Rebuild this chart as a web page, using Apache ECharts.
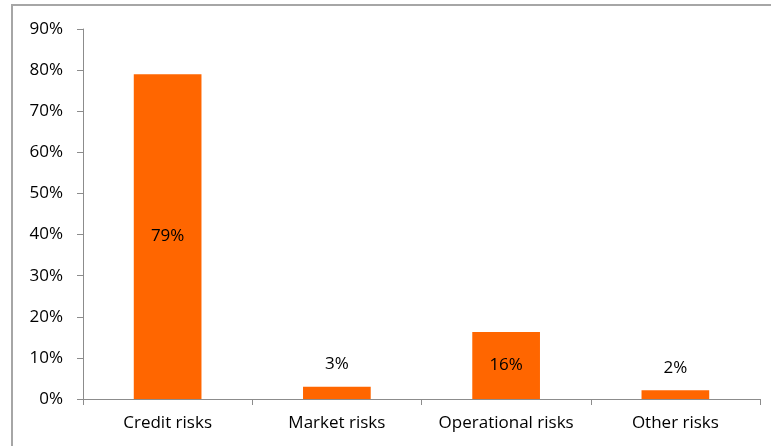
<!DOCTYPE html>
<html>
<head>
<meta charset="utf-8">
<script src="https://cdn.jsdelivr.net/npm/echarts@6/dist/echarts.min.js"></script>
<style>
	html, body { margin: 0; padding: 0; background: #fff; }
	#chart { width: 771px; height: 446px; }
</style>
</head>
<body>
<div id="chart"></div>
<script>
	// categories and values
	const categories = ["Credit risks", "Market risks", "Operational risks", "Other risks"];
	const shares = [79, 3, 16.3, 2.1];
	// labels inside the bar or above it
	const labelInside = [true, false, true, false];

	const fontFamily = "'Open Sans', 'Noto Sans', sans-serif";

	const chart = echarts.init(document.getElementById("chart"));

	const option = {
		animation: false,
		graphic: [
			{
				type: "rect",
				shape: { x: 12, y: 5, width: 820, height: 500 },
				style: { fill: "none", stroke: "#a6a6a6", lineWidth: 2 },
				silent: true
			}
		],
		grid: { left: 83, right: 11, top: 29, bottom: 47 },
		xAxis: {
			type: "category",
			data: categories,
			axisLine: { lineStyle: { color: "#8c8c8c" } },
			axisTick: { show: true, interval: 0, length: 6, lineStyle: { color: "#8c8c8c" } },
			axisLabel: { interval: 0, color: "#000", fontFamily, fontSize: 17, margin: 16 }
		},
		yAxis: {
			type: "value",
			min: 0,
			max: 90,
			interval: 10,
			axisLine: { show: true, lineStyle: { color: "#8c8c8c" } },
			axisTick: { show: true, length: 6, lineStyle: { color: "#8c8c8c" } },
			splitLine: { show: false },
			axisLabel: { color: "#000", fontFamily, fontSize: 17, margin: 20, formatter: "{value}%" }
		},
		series: [
			{
				type: "bar",
				barWidth: "40%",
				itemStyle: { color: "#ff6600" },
				data: shares.map((v, i) => ({
					value: v,
					label: {
						show: true,
						position: labelInside[i] ? "inside" : "top",
						distance: 14,
						color: "#000",
						fontFamily,
						fontSize: 17,
						formatter: p => Math.round(p.value) + "%"
					}
				}))
			}
		]
	};

	chart.setOption(option);
</script>
</body>
</html>
